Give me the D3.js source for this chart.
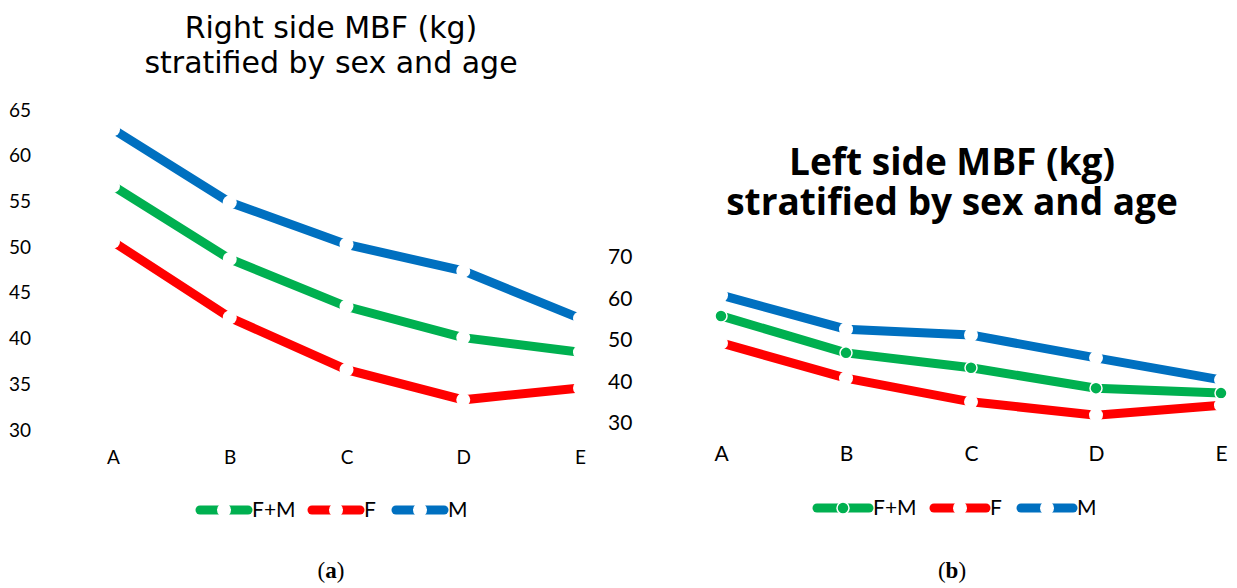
<!DOCTYPE html>
<html>
<head>
<meta charset="utf-8">
<script src="https://cdn.jsdelivr.net/npm/d3@7"></script>
<style>
  body { margin: 0; background: #fff; }
  svg { display: block; }
</style>
</head>
<body>
<div id="chart"></div>
<script>
// categories and series
var categories = ["A", "B", "C", "D", "E"];
var seriesNames = ["F+M", "F", "M"];

// right side MBF (kg), panel (a)
var rightFM = [56.7, 48.7, 43.5, 40.1, 38.5];
var rightF  = [50.6, 42.3, 36.6, 33.3, 34.6];
var rightM  = [62.9, 54.9, 50.3, 47.4, 42.2];
var rightTicks = [30, 35, 40, 45, 50, 55, 60, 65];

// left side MBF (kg), panel (b)
var leftFM = [55.8, 46.9, 43.3, 38.4, 37.2];
var leftF  = [49.3, 40.8, 35.1, 31.9, 34.3];
var leftM  = [60.8, 52.6, 51.2, 45.7, 40.4];
var leftTicks = [30, 40, 50, 60, 70];

var colors = {"F+M": "#00b050", "F": "#ff0000", "M": "#0070c0"};

var svg = d3.select("#chart").append("svg")
  .attr("width", 1237)
  .attr("height", 588);

function panel(opt) {
  var g = svg.append("g");

  var x = d3.scalePoint().domain(categories).range(opt.xRange);
  var y = d3.scaleLinear().domain(opt.yDomain).range(opt.yRange);

  // title, one text per line
  opt.titleLines.forEach(function(t, i) {
    g.append("text")
      .attr("x", opt.titleX)
      .attr("y", opt.titleY[i])
      .attr("text-anchor", "middle")
      .style("font-family", opt.titleFont)
      .style("font-weight", opt.titleWeight)
      .style("font-size", opt.titleSize + "px")
      .style("fill", "#000")
      .text(t);
  });

  // y axis (labels only)
  var yAxis = g.append("g")
    .attr("transform", "translate(" + opt.yAxisX + ",0)")
    .call(d3.axisLeft(y).tickValues(opt.ticks).tickSize(0).tickPadding(0));
  yAxis.select(".domain").remove();
  yAxis.selectAll("text")
    .attr("text-anchor", "start")
    .attr("x", 0)
    .style("font-family", "Lato, 'Open Sans', sans-serif")
    .style("font-size", opt.tickSize + "px")
    .style("fill", "#000");

  // x axis (labels only)
  var xAxis = g.append("g")
    .attr("transform", "translate(0," + opt.xAxisY + ")")
    .call(d3.axisBottom(x).tickSize(0).tickPadding(0));
  xAxis.select(".domain").remove();
  xAxis.selectAll("text")
    .style("font-family", "Lato, 'Open Sans', sans-serif")
    .style("font-size", opt.tickSize + "px")
    .style("fill", "#000");

  var line = d3.line()
    .x(function(d, i) { return x(categories[i]); })
    .y(function(d) { return y(d); });

  // draw in order: F+M, F, M
  opt.series.forEach(function(s) {
    g.append("path")
      .datum(s.values)
      .attr("d", line)
      .attr("fill", "none")
      .attr("stroke", colors[s.name])
      .attr("stroke-width", 9);
  });
  opt.series.forEach(function(s) {
    var filled = opt.filledMarker.indexOf(s.name) >= 0;
    g.selectAll(null)
      .data(s.values)
      .enter()
      .append("circle")
      .attr("cx", function(d, i) { return x(categories[i]); })
      .attr("cy", function(d) { return y(d); })
      .attr("r", filled ? 6 : 7)
      .attr("fill", filled ? colors[s.name] : "#fff")
      .attr("stroke", "#fff")
      .attr("stroke-width", filled ? 1.5 : 0);
  });

  // legend
  var lg = g.append("g");
  opt.series.forEach(function(s, i) {
    var x0 = opt.legendX[i];
    var filled = opt.filledMarker.indexOf(s.name) >= 0;
    lg.append("line")
      .attr("x1", x0 + 4).attr("x2", x0 + opt.legendLen - 4)
      .attr("y1", opt.legendY).attr("y2", opt.legendY)
      .attr("stroke", colors[s.name])
      .attr("stroke-width", 9)
      .attr("stroke-linecap", "round");
    lg.append("circle")
      .attr("cx", x0 + opt.legendLen / 2)
      .attr("cy", opt.legendY)
      .attr("r", filled ? 6 : 7)
      .attr("fill", filled ? colors[s.name] : "#fff")
      .attr("stroke", "#fff")
      .attr("stroke-width", filled ? 1.5 : 0);
    lg.append("text")
      .attr("x", x0 + opt.legendLen)
      .attr("y", opt.legendY + 7)
      .style("font-family", "Lato, 'Open Sans', sans-serif")
      .style("font-size", opt.legendSize + "px")
      .style("fill", "#000")
      .text(s.name);
  });

  // caption
  var cap = g.append("text")
    .attr("x", opt.titleX)
    .attr("y", 578)
    .attr("text-anchor", "middle")
    .style("font-family", "'Liberation Serif', 'DejaVu Serif', serif")
    .style("font-size", "23px")
    .style("fill", "#000");
  cap.append("tspan").text("(");
  cap.append("tspan").style("font-weight", "bold").text(opt.caption);
  cap.append("tspan").text(")");
}

panel({
  titleLines: ["Right side MBF (kg)", "stratified by sex and age"],
  titleX: 331,
  titleY: [38, 73],
  titleFont: "'DejaVu Sans', Verdana, sans-serif",
  titleWeight: "normal",
  titleSize: 30,
  xRange: [113, 580],
  yDomain: [30, 65],
  yRange: [430, 110],
  ticks: rightTicks,
  yAxisX: 9,
  xAxisY: 450,
  tickSize: 19,
  series: [
    {name: "F+M", values: rightFM},
    {name: "F", values: rightF},
    {name: "M", values: rightM}
  ],
  filledMarker: [],
  legendX: [196, 308, 392],
  legendLen: 56,
  legendY: 510,
  legendSize: 21,
  caption: "a"
});

panel({
  titleLines: ["Left side MBF (kg)", "stratified by sex and age"],
  titleX: 952,
  titleY: [175, 215],
  titleFont: "'Open Sans', Lato, sans-serif",
  titleWeight: "bold",
  titleSize: 37,
  xRange: [721, 1221],
  yDomain: [30, 70],
  yRange: [423, 257],
  ticks: leftTicks,
  yAxisX: 608,
  xAxisY: 446,
  tickSize: 21,
  series: [
    {name: "F+M", values: leftFM},
    {name: "F", values: leftF},
    {name: "M", values: leftM}
  ],
  filledMarker: ["F+M"],
  legendX: [813, 930, 1017],
  legendLen: 60,
  legendY: 508,
  legendSize: 21,
  caption: "b"
});
</script>
</body>
</html>
